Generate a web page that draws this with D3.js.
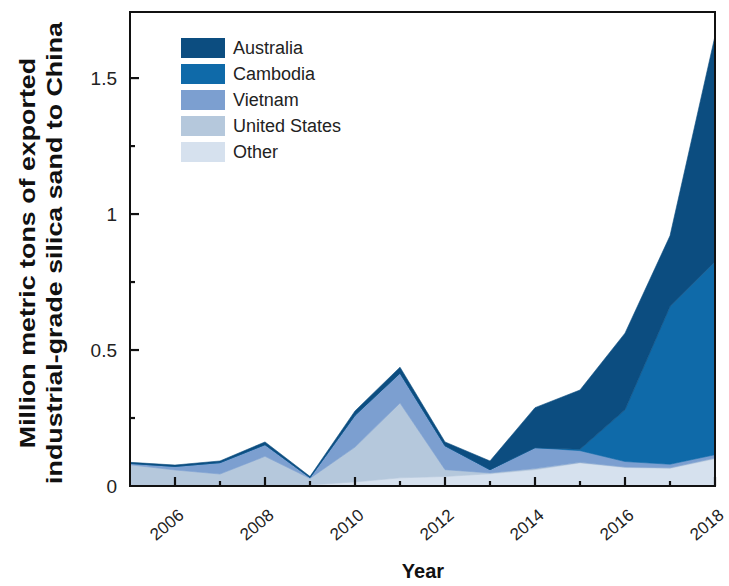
<!DOCTYPE html>
<html>
<head>
<meta charset="utf-8">
<script src="https://cdn.jsdelivr.net/npm/d3@7"></script>
<style>
  body { margin: 0; background: #fff; }
  text { font-family: Arial, "Liberation Sans", sans-serif; }
</style>
</head>
<body>
<div id="chart"></div>
<script>

// data (million metric tons)
const years = [2005, 2006, 2007, 2008, 2009, 2010, 2011, 2012, 2013, 2014, 2015, 2016, 2017, 2018];
const countries = ["Other", "United States", "Vietnam", "Cambodia", "Australia"];
const other = [0.004, 0.004, 0.004, 0.004, 0.004, 0.015, 0.03, 0.035, 0.045, 0.06, 0.085, 0.068, 0.065, 0.1];
const unitedStates = [0.074, 0.055, 0.04, 0.105, 0.024, 0.128, 0.275, 0.025, 0.003, 0.004, 0.002, 0.002, 0.002, 0.003];
const vietnam = [0.005, 0.013, 0.042, 0.043, 0.003, 0.117, 0.11, 0.088, 0.012, 0.077, 0.043, 0.02, 0.013, 0.012];
const cambodia = [0, 0, 0, 0, 0, 0, 0, 0, 0, 0, 0.005, 0.19, 0.58, 0.71];
const australia = [0.004, 0.005, 0.006, 0.01, 0.004, 0.016, 0.022, 0.014, 0.032, 0.147, 0.218, 0.282, 0.26, 0.83];
const colors = ["#d6e1ee", "#b5c8dc", "#7c9fd0", "#0f6aa9", "#0c4d80"];
const legendOrder = ["Australia", "Cambodia", "Vietnam", "United States", "Other"];
const xTicks = [2006, 2008, 2010, 2012, 2014, 2016, 2018];
const xMinor = [2007, 2009, 2011, 2013, 2015, 2017];
const yTicks = [0, 0.5, 1, 1.5];
const yMinor = [0.25, 0.75, 1.25];

const table = years.map((y, i) => ({
    year: y,
    "Other": other[i],
    "United States": unitedStates[i],
    "Vietnam": vietnam[i],
    "Cambodia": cambodia[i],
    "Australia": australia[i]
}));

var margin = {top: 12, right: 14, bottom: 100, left: 130},
    width = 729 - margin.left - margin.right,
    height = 586 - margin.top - margin.bottom;

var svg = d3.select("#chart")
    .append("svg")
    .attr("width", 729)
    .attr("height", 586);

var g = svg.append("g")
    .attr("transform", "translate(" + margin.left + "," + margin.top + ")");

var x = d3.scaleLinear().domain([2005, 2018]).range([0, width]);
var y = d3.scaleLinear().domain([0, 1.743]).range([height, 0]);
var color = d3.scaleOrdinal().domain(countries).range(colors);

var series = d3.stack().keys(countries)(table);

var area = d3.area()
    .x(d => x(d.data.year))
    .y0(d => y(d[0]))
    .y1(d => y(d[1]));

g.selectAll("path.layer")
    .data(series)
    .enter().append("path")
    .attr("class", "layer")
    .attr("d", area)
    .attr("fill", d => color(d.key))
    .attr("stroke", d => color(d.key))
    .attr("stroke-width", 0.6);

// frame
g.append("rect")
    .attr("width", width)
    .attr("height", height)
    .attr("fill", "none")
    .attr("stroke", "#111")
    .attr("stroke-width", 2);

// x ticks, pointing inward
g.selectAll("line.xt")
    .data(xTicks.concat(xMinor))
    .enter().append("line")
    .attr("class", "xt")
    .attr("x1", d => x(d)).attr("x2", d => x(d))
    .attr("y1", height)
    .attr("y2", d => xTicks.includes(d) ? height - 9 : height - 5)
    .attr("stroke", "#111")
    .attr("stroke-width", 2.2);

g.selectAll("text.xlab")
    .data(xTicks)
    .enter().append("text")
    .attr("class", "xlab")
    .attr("text-anchor", "end")
    .attr("font-size", 17)
    .attr("fill", "#222")
    .attr("transform", d => "translate(" + (x(d) + 10) + "," + (height + 31) + ") rotate(-40)")
    .text(d => d);

// y ticks, pointing inward
g.selectAll("line.yt")
    .data(yTicks.slice(1).concat(yMinor))
    .enter().append("line")
    .attr("class", "yt")
    .attr("x1", 0)
    .attr("x2", d => yTicks.includes(d) ? 9 : 5)
    .attr("y1", d => y(d)).attr("y2", d => y(d))
    .attr("stroke", "#111")
    .attr("stroke-width", 2.2);

g.selectAll("text.ylab")
    .data(yTicks)
    .enter().append("text")
    .attr("class", "ylab")
    .attr("text-anchor", "end")
    .attr("font-size", 19)
    .attr("fill", "#222")
    .attr("x", -13)
    .attr("y", d => y(d) + 7)
    .text(d => d);

// axis titles
svg.append("text")
    .attr("text-anchor", "middle")
    .attr("font-size", 20)
    .attr("font-weight", "bold")
    .attr("fill", "#111")
    .attr("x", 423)
    .attr("y", 578)
    .text("Year");

var yTitle = svg.append("text")
    .attr("text-anchor", "middle")
    .attr("font-size", 22)
    .attr("font-weight", "bold")
    .attr("fill", "#111")
    .attr("transform", "translate(35,253) rotate(-90) scale(1.22,1)");
yTitle.append("tspan").attr("x", 0).attr("dy", 0).text("Million metric tons of exported");
yTitle.append("tspan").attr("x", 0).attr("dy", 27).text("industrial-grade silica sand to China");

// legend
var legend = g.selectAll("g.leg")
    .data(legendOrder)
    .enter().append("g")
    .attr("class", "leg")
    .attr("transform", (d, i) => "translate(51," + (26 + i * 26) + ")");

legend.append("rect")
    .attr("width", 44)
    .attr("height", 20)
    .attr("fill", d => color(d));

legend.append("text")
    .attr("x", 52)
    .attr("y", 16)
    .attr("font-size", 18)
    .attr("fill", "#222")
    .text(d => d);

</script>
</body>
</html>
